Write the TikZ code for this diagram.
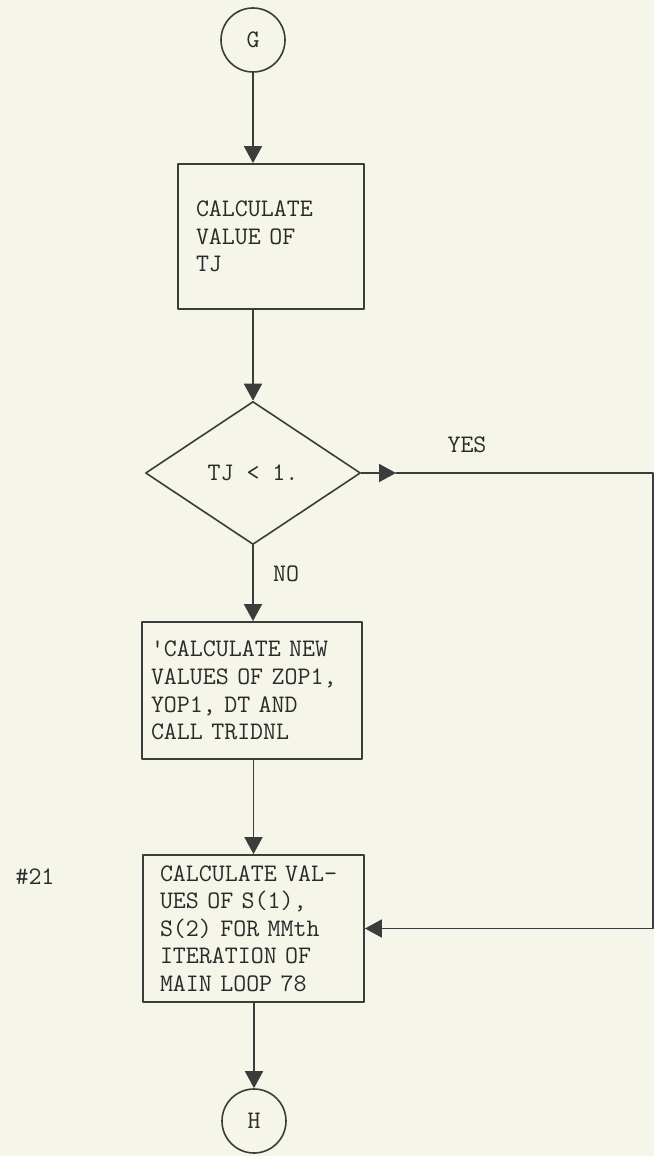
\documentclass[tikz,border=0pt]{standalone}
\usepackage{fontspec}
\usetikzlibrary{arrows.meta,shapes.geometric}
\definecolor{PaperCream}{HTML}{F5F5EA}
\definecolor{InkGray}{HTML}{3C3C3C}
\definecolor{TypeGray}{HTML}{2A2A2A}

\newcommand{\typer}{\ttfamily\fontsize{12.6}{13.8}\selectfont}

\begin{document}
\begin{tikzpicture}[
  x=0.5pt, y=-0.5pt,
  line cap=round, line join=round,
  >={Triangle[length=8.5pt,width=9pt]},
  wire/.style={draw=InkGray, line width=0.9pt},
  flow/.style={wire, ->},
  connector/.style={circle, draw=InkGray, line width=0.8pt, minimum size=32pt,
    inner sep=0pt, font=\typer, text=TypeGray},
  procbox/.style={rectangle, draw=InkGray, line width=0.9pt, align=left,
    inner ysep=0pt, font=\typer, text=TypeGray},
  decision/.style={diamond, draw=InkGray, line width=0.8pt, minimum width=107.5pt,
    minimum height=71.5pt, inner sep=0pt, font=\typer, text=TypeGray},
  tag/.style={font=\typer, text=TypeGray}
]

% === Page ===
\fill[PaperCream] (0,0) rectangle (654,1156);
\useasboundingbox (0,0) rectangle (654,1156);

% === Flow chart nodes ===
\node[connector] (G) at (253,40) {G};

\node[procbox, minimum width=93pt, minimum height=72.5pt,
      text width=75pt, inner xsep=9pt] (calc) at (271,236.5)
  {CALCULATE\\VALUE OF\\TJ};

\node[decision] (test) at (253,473) {TJ < 1.};

\node[procbox, minimum width=110pt, minimum height=68.5pt,
      text width=101pt, inner xsep=4.5pt] (newvals) at (252,690.5)
  {'CALCULATE NEW\\VALUES OF ZOP1,\\YOP1, DT AND\\CALL TRIDNL};

\node[procbox, minimum width=110.5pt, minimum height=73.5pt,
      text width=93.5pt, inner xsep=8.5pt] (sums) at (253.5,928.5)
  {CALCULATE VAL-\\UES OF S(1),\\S(2) FOR MMth\\ITERATION OF\\MAIN LOOP 78};

\node[connector] (H) at (254,1121) {H};

% labels
\node[tag] (yes) at (467,445) {YES};
\node[tag, anchor=west] (no) at (266,574) {NO};
\node[tag] (num) at (35,877) {\#21};

% === Connectors ===
\coordinate (yestip) at (396,473);
\coordinate (rcorner) at (653,473);

\draw[flow] (G) -- (G |- calc.north);
\draw[flow] (calc.south -| test.north) -- (test.north);
\draw[flow] (test.east) -- (yestip);
\draw[flow] (yestip) -- (rcorner) |- (sums.east);
\draw[flow] (test.south) -- (test.south |- newvals.north);
\draw[flow] (newvals.south -| sums.north) -- (sums.north);
\draw[flow] (sums.south -| H.north) -- (H.north);

\end{tikzpicture}
\end{document}
